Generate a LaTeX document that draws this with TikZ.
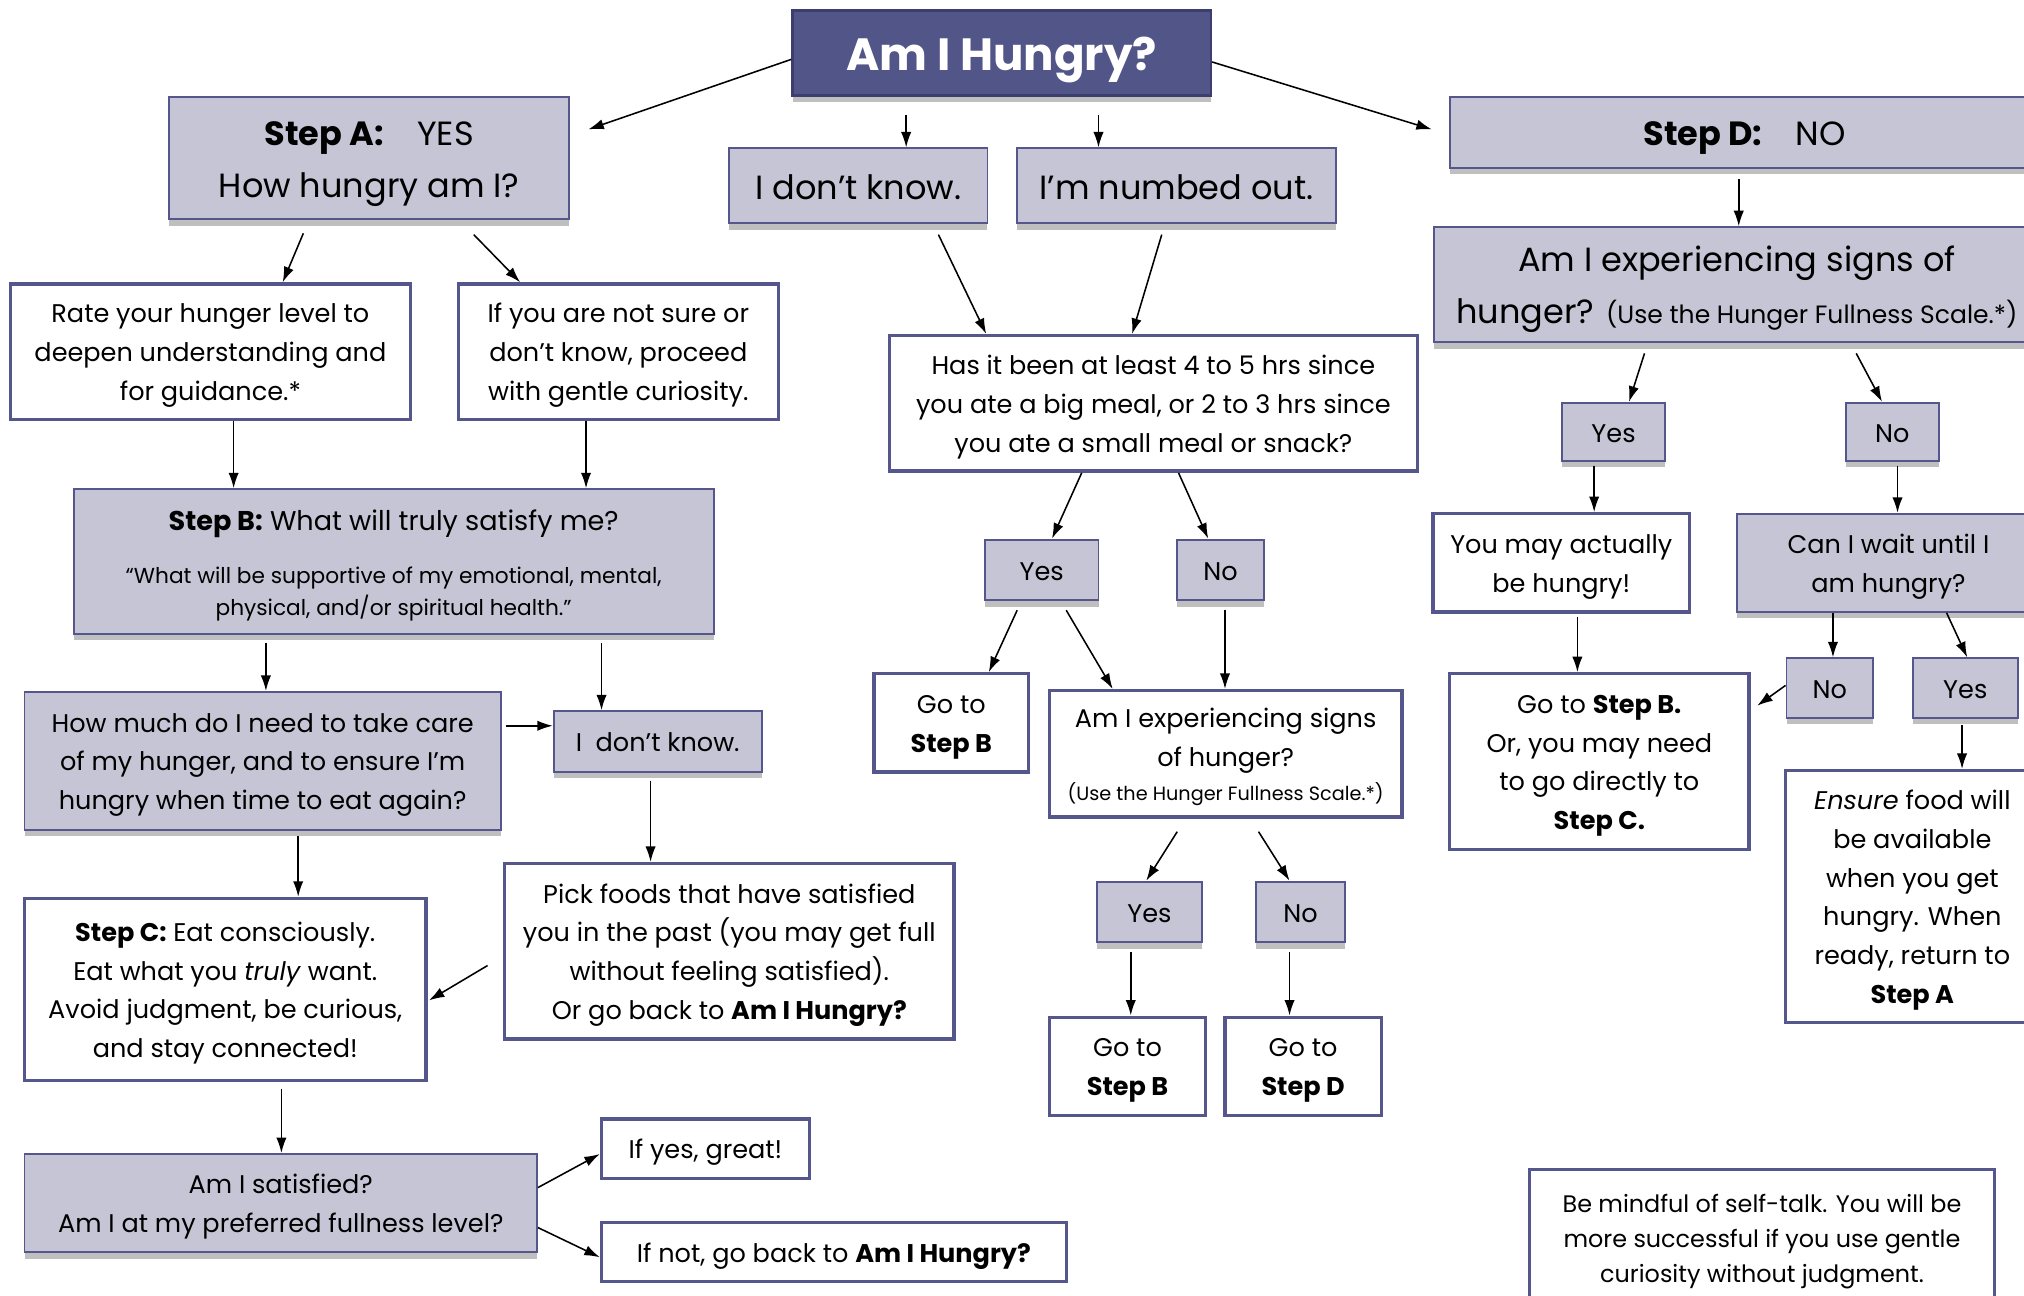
\documentclass[tikz,border=0pt]{standalone}
\usepackage{fontspec}
\setmainfont{Poppins}
\usetikzlibrary{arrows.meta,shadows}
\definecolor{edgeblue}{RGB}{85,87,140}
\definecolor{boxgray}{RGB}{197,197,213}
\definecolor{titlefill}{RGB}{82,85,135}
\definecolor{titleedge}{RGB}{60,62,110}
\newcommand*{\bodyfont}{\fontsize{19.8}{30}\selectfont}
\newcommand*{\bigfont }{\fontsize{26}{40}\selectfont}
\newcommand*{\smallfont}{\fontsize{14.9}{20}\selectfont}
\newcommand*{\up}{\rule{0pt}{1.05em}}% first line strut

\begin{document}
\begin{tikzpicture}[x=1pt, y=-1pt,
    boxtext/.style={align=center, inner sep=0pt,
        execute at begin node={\rule{0pt}{1.05em}}, execute at end node={\rule[-0.25em]{0pt}{0pt}}},
    graybox/.style={boxtext, draw=edgeblue, line width=1.5pt, fill=boxgray,
        drop shadow={shadow xshift=0pt, shadow yshift=-5pt, fill=black, opacity=0.25}},
    whitebox/.style={boxtext, draw=edgeblue, line width=2.6pt, fill=white},
    arr/.style={-{Latex[length=12pt,width=8pt]}, line width=1.2pt}]
    \useasboundingbox (0,0) rectangle (1568,1004);
    \clip (0,0) rectangle (1568,1004);
    % top row
    \node [boxtext, draw=titleedge, line width=2pt, fill=titlefill, text=white, minimum width=324pt, minimum height=66pt,
        font=\fontsize{35}{40}\selectfont\bfseries,
        drop shadow={shadow xshift=0pt, shadow yshift=-5pt, fill=black, opacity=0.25}] (title) at (776,41) {Am I Hungry?};
    \node [graybox, minimum width=310pt, minimum height=95pt, font=\bigfont] (stepA) at (286,122.5) {\up\textbf{Step A:}\hspace{1em}YES\\How hungry am I?};
    \node [graybox, minimum width=200pt, minimum height=58pt, font=\bigfont] (dontknow) at (665,144) {I don’t know.};
    \node [graybox, minimum width=247pt, minimum height=58pt, font=\bigfont] (numbed) at (911.5,144) {I’m numbed out.};
    \node [graybox, minimum width=457pt, minimum height=55pt, font=\bigfont] (stepD) at (1351.5,102.5) {\textbf{Step D:}\hspace{1em}NO};
    \node [graybox, minimum width=469pt, minimum height=89pt, font=\bigfont] (signsD) at (1345.5,220.5) {\up Am I experiencing signs of\\hunger? {\fontsize{19.4}{40}\selectfont(Use the Hunger Fullness Scale.*)}};
    % second row
    \node [whitebox, minimum width=310pt, minimum height=105pt, font=\bodyfont] (rate) at (163,272.5) {\up Rate your hunger level to\\deepen understanding and\\for guidance.*};
    \node [whitebox, minimum width=248pt, minimum height=105pt, font=\bodyfont] (notsure) at (479,272.5) {\up If you are not sure or\\don’t know, proceed\\with gentle curiosity.};
    \node [whitebox, minimum width=409pt, minimum height=105pt, font=\bodyfont] (hasit) at (893.5,312.5) {\up Has it been at least 4 to 5 hrs since\\you ate a big meal, or 2 to 3 hrs since\\you ate a small meal or snack?};
    \node [graybox, minimum width=80pt, minimum height=45pt, font=\bodyfont] (yesD) at (1250,334.5) {Yes};
    \node [graybox, minimum width=72pt, minimum height=45pt, font=\bodyfont] (noD) at (1466,334.5) {No};
    % step B row
    \node [graybox, minimum width=496pt, minimum height=112pt, font=\fontsize{16.8}{25}\selectfont] (stepB) at (305,435) {{\fontsize{21}{25}\selectfont\up\textbf{Step B:} What will truly satisfy me?}\\[16pt]“What will be supportive of my emotional, mental,\\physical, and/or spiritual health.”};
    \node [graybox, minimum width=88pt, minimum height=47pt, font=\bodyfont] (yesM) at (807,441.5) {Yes};
    \node [graybox, minimum width=67pt, minimum height=47pt, font=\bodyfont] (noM) at (945.5,441.5) {No};
    \node [whitebox, minimum width=199pt, minimum height=76pt, font=\bodyfont] (mayhungry) at (1209.5,436) {\up You may actually\\be hungry!};
    \node [graybox, minimum width=234pt, minimum height=76pt, font=\bodyfont] (canwait) at (1463,436) {\up Can I wait until I\\am hungry?};
    % middle rows
    \node [graybox, minimum width=369pt, minimum height=107pt, font=\bodyfont] (howmuch) at (203.5,589.5) {\up How much do I need to take care\\of my hunger, and to ensure I’m\\hungry when time to eat again?};
    \node [graybox, minimum width=161pt, minimum height=47pt, font=\bodyfont] (dontknowB) at (509.5,574.5) {I\ \ don’t know.};
    \node [whitebox, minimum width=120pt, minimum height=76pt, font=\bodyfont] (gotoBm) at (737,560) {\up Go to\\\textbf{Step B}};
    \node [whitebox, minimum width=273pt, minimum height=98pt, font=\bodyfont] (signsM) at (949.5,584) {\up Am I experiencing signs\\of hunger?\\[-4pt]{\smallfont(Use the Hunger Fullness Scale.*)}};
    \node [whitebox, minimum width=232pt, minimum height=136pt, font=\bodyfont] (gotoBC) at (1239,590) {\up Go to \textbf{Step B.}\\Or, you may need\\to go directly to\\\textbf{Step C.}};
    \node [graybox, minimum width=67pt, minimum height=46pt, font=\bodyfont] (noW) at (1417.5,533) {No};
    \node [graybox, minimum width=81pt, minimum height=46pt, font=\bodyfont] (yesW) at (1522.5,533) {Yes};
    \node [whitebox, minimum width=197pt, minimum height=195pt, font=\bodyfont] (ensure) at (1481.5,694.5) {\up\textit{Ensure} food will\\be available\\when you get\\hungry. When\\ready, return to\\\textbf{Step A}};
    \node [whitebox, minimum width=311pt, minimum height=141pt, font=\bodyfont] (stepC) at (174.5,766.5) {\up\textbf{Step C:} Eat consciously.\\Eat what you \textit{truly} want.\\Avoid judgment, be curious,\\and stay connected!};
    \node [whitebox, minimum width=348pt, minimum height=136pt, font=\bodyfont] (pick) at (565,737) {\up Pick foods that have satisfied\\you in the past (you may get full\\without feeling satisfied).\\Or go back to \textbf{Am I Hungry?}};
    \node [graybox, minimum width=81pt, minimum height=47pt, font=\bodyfont] (yesL) at (890.5,706.5) {Yes};
    \node [graybox, minimum width=69pt, minimum height=47pt, font=\bodyfont] (noL) at (1007.5,706.5) {No};
    \node [whitebox, minimum width=121pt, minimum height=76pt, font=\bodyfont] (gotoBl) at (873.5,826) {\up Go to\\\textbf{Step B}};
    \node [whitebox, minimum width=121pt, minimum height=76pt, font=\bodyfont] (gotoD) at (1009.5,826) {\up Go to\\\textbf{Step D}};
    % bottom
    \node [graybox, minimum width=397pt, minimum height=76pt, font=\bodyfont] (satisfied) at (217.5,932) {\up Am I satisfied?\\Am I at my preferred fullness level?};
    \node [whitebox, minimum width=161pt, minimum height=46pt, font=\bodyfont] (yesgreat) at (546.5,890) {If yes, great!};
    \node [whitebox, minimum width=360pt, minimum height=46pt, font=\bodyfont] (ifnot) at (646,970) {If not, go back to \textbf{Am I Hungry?}};
    \node [whitebox, minimum width=360pt, minimum height=106pt, font=\fontsize{18.5}{27}\selectfont] (mindful) at (1365,959) {\up Be mindful of self-talk. You will be\\more successful if you use gentle\\curiosity without judgment.};
    % connectors
    \draw [arr] ([yshift=-5pt]title.west) -- ([xshift=14pt,yshift=-26pt]stepA.north east);
    \draw [arr] ([xshift=-74pt,yshift=-14pt]title.south) -- ([xshift=37pt]dontknow.north);
    \draw [arr] ([xshift=75pt,yshift=-14pt]title.south) -- ([xshift=-60.5pt]numbed.north);
    \draw [arr] ([yshift=-7pt]title.east) -- ([xshift=-13pt,yshift=-26pt]stepD.north west);
    \draw [arr] ([xshift=-51pt,yshift=-10pt]stepA.south) -- ([xshift=56pt]rate.north);
    \draw [arr] ([xshift=81pt,yshift=-11pt]stepA.south) -- ([xshift=-76pt]notsure.north);
    \draw [arr] ([xshift=62pt,yshift=-8pt]dontknow.south) -- ([xshift=-129.5pt]hasit.north);
    \draw [arr] ([xshift=-11.5pt,yshift=-8pt]numbed.south) -- ([xshift=-16.5pt]hasit.north);
    \draw [arr] ([xshift=-4.5pt,yshift=-8pt]stepD.south) -- ([xshift=1.5pt]signsD.north);
    \draw [arr] ([xshift=18pt]rate.south) -- ([xshift=-124pt]stepB.north);
    \draw [arr] ([xshift=-25pt]notsure.south) -- ([xshift=149pt]stepB.north);
    \draw [arr] ([xshift=-71.5pt,yshift=-8pt]signsD.south) -- ([xshift=12pt]yesD.north);
    \draw [arr] ([xshift=92.5pt,yshift=-8pt]signsD.south) -- ([xshift=-8pt]noD.north);
    \draw [arr] ([xshift=-55.5pt]hasit.south) -- ([xshift=8pt]yesM.north);
    \draw [arr] ([xshift=19.5pt]hasit.south) -- ([xshift=-9.5pt]noM.north);
    \draw [arr] ([xshift=-15pt,yshift=-3pt]yesD.south) -- ([xshift=25.5pt]mayhungry.north);
    \draw [arr] ([xshift=4pt,yshift=-3pt]noD.south) -- ([xshift=7pt]canwait.north);
    \draw [arr] ([xshift=-99pt,yshift=-6pt]stepB.south) -- ([xshift=2.5pt]howmuch.north);
    \draw [arr] ([xshift=161pt,yshift=-6pt]stepB.south) -- ([xshift=-43.5pt]dontknowB.north);
    \draw [arr] ([xshift=3pt,yshift=-27pt]howmuch.north east) -- ([yshift=-12pt]dontknowB.north west);
    \draw [arr] ([xshift=-19pt,yshift=-7pt]yesM.south) -- ([xshift=29pt]gotoBm.north);
    \draw [arr] ([xshift=19pt,yshift=-7pt]yesM.south) -- ([xshift=-87.5pt]signsM.north);
    \draw [arr] ([xshift=3.5pt,yshift=-7pt]noM.south) -- ([xshift=-0.5pt]signsM.north);
    \draw [arr] ([xshift=12.5pt,yshift=-3pt]mayhungry.south) -- ([xshift=-17pt]gotoBC.north);
    \draw [arr] ([xshift=-43pt]canwait.south) -- ([xshift=2.5pt]noW.north);
    \draw [arr] ([xshift=45pt]canwait.south) -- ([xshift=1.5pt]yesW.north);
    \draw [arr] ([yshift=2pt]noW.west) -- ([xshift=5pt,yshift=-26pt]gotoBC.north east);
    \draw [arr] ([xshift=-2.5pt,yshift=-5pt]yesW.south) -- ([xshift=38.5pt]ensure.north);
    \draw [arr] ([xshift=27.5pt,yshift=-4pt]howmuch.south) -- ([xshift=56.5pt]stepC.north);
    \draw [arr] ([xshift=-5.5pt,yshift=-6pt]dontknowB.south) -- ([xshift=-61pt]pick.north);
    \draw [arr] ([xshift=-12pt,yshift=-11pt]pick.west) -- ([xshift=1pt,yshift=-8.5pt]stepC.east);
    \draw [arr] ([xshift=-37.5pt,yshift=-10pt]signsM.south) -- ([xshift=-2.5pt]yesL.north);
    \draw [arr] ([xshift=25.5pt,yshift=-10pt]signsM.south) -- ([xshift=-8.5pt]noL.north);
    \draw [arr] ([xshift=-14.5pt,yshift=-7pt]yesL.south) -- ([xshift=2.5pt]gotoBl.north);
    \draw [arr] ([xshift=-8.5pt,yshift=-7pt]noL.south) -- ([xshift=-10.5pt]gotoD.north);
    \draw [arr] ([xshift=43.5pt,yshift=-5pt]stepC.south) -- ([xshift=0.5pt]satisfied.north);
    \draw [arr] ([yshift=12pt]satisfied.east) -- ([yshift=-4pt]yesgreat.west);
    \draw [arr] ([yshift=-19pt]satisfied.east) -- ([yshift=-4pt]ifnot.west);
\end{tikzpicture}
\end{document}
